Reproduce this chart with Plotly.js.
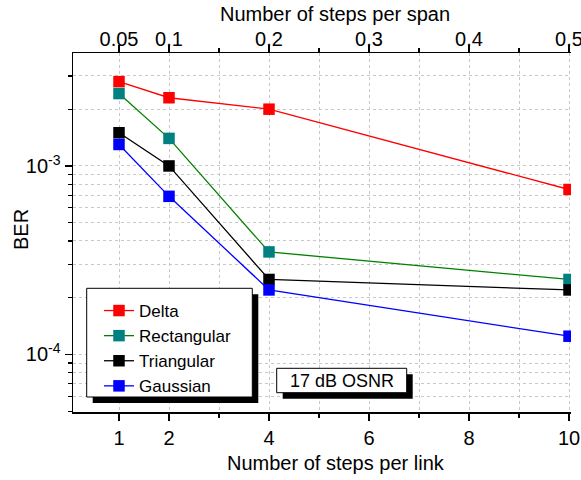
<!DOCTYPE html>
<html><head><meta charset="utf-8">
<script src="https://cdn.plot.ly/plotly-3.0.1.min.js"></script>
<style>body{margin:0;padding:0;background:#fff}#chart{width:581px;height:480px}</style>
</head><body><div id="chart"></div>
<script>
// ---- data ----
const stepsPerLink = [1, 2, 4, 10];
const berDelta = [2.8e-3, 2.3e-3, 2.0e-3, 7.5e-4];
const berRectangular = [2.42e-3, 1.4e-3, 3.5e-4, 2.5e-4];
const berTriangular = [1.5e-3, 1.0e-3, 2.5e-4, 2.2e-4];
const berGaussian = [1.3e-3, 6.9e-4, 2.2e-4, 1.25e-4];
const seriesNames = ['Delta', 'Rectangular', 'Triangular', 'Gaussian'];
const linkTicks = [1, 2, 4, 6, 8, 10];
const spanTicks = [0.05, 0.1, 0.2, 0.3, 0.4, 0.5];
const spanTickLabels = ['0.05', '0.1', '0.2', '0.3', '0.4', '0.5'];
const linksPerSpan = 20;
const yTickVals = [1e-4, 1e-3];
const yTickText = ['10<sup>-4</sup>', '10<sup>-3</sup>'];
const annotationText = '17 dB OSNR';

// ---- styles ----
const lineColors = ['#FF0000', '#008000', '#000000', '#0000FF'];
const markerColors = ['#FF0000', '#008080', '#000000', '#0000FF'];
const FONT = 'Arial, "Liberation Sans", sans-serif';
const W = 581, H = 480, M = {l: 73, r: 10, t: 53, b: 68};
const PW = W - M.l - M.r, PH = H - M.t - M.b;
const px = v => (v - M.l) / PW;
const py = v => (H - M.b - v) / PH;

const seriesValues = [berDelta, berRectangular, berTriangular, berGaussian];
const traces = seriesValues.map((ys, i) => ({
  type: 'scatter', mode: 'lines+markers', name: seriesNames[i],
  x: stepsPerLink, y: ys,
  line: {color: lineColors[i], width: 1.3},
  marker: {symbol: 'square', size: 11.5, color: markerColors[i], line: {width: 0}},
  xaxis: 'x', yaxis: 'y'
}));
// helper (invisible) trace for the top axis
traces.push({type: 'scatter', mode: 'markers', x: spanTicks.map(s => s * linksPerSpan),
  y: spanTicks.map(() => null), xaxis: 'x2', yaxis: 'y', showlegend: false,
  hoverinfo: 'skip', marker: {opacity: 0}});

const grid = {showgrid: true, gridcolor: '#c8c8c8', griddash: 'dot', gridwidth: 1};
const xr = [0.08, 10.04];

function box(x0, y0, x1, y1) {
  return [
    {type: 'rect', xref: 'paper', yref: 'paper', layer: 'above',
     x0: px(x0 + 6), x1: px(x1 + 6), y0: py(y0 + 6), y1: py(y1 + 6),
     fillcolor: '#000', line: {width: 0}},
    {type: 'rect', xref: 'paper', yref: 'paper', layer: 'above',
     x0: px(x0), x1: px(x1), y0: py(y0), y1: py(y1),
     fillcolor: '#fff', line: {color: '#000', width: 1}}
  ];
}

const layout = {
  width: W, height: H, margin: M,
  paper_bgcolor: '#fff', plot_bgcolor: '#fff',
  font: {family: FONT, size: 20, color: '#000'},
  showlegend: true,
  legend: {x: px(99), y: py(293), xanchor: 'left', yanchor: 'top',
    bgcolor: 'rgba(0,0,0,0)', borderwidth: 0,
    font: {family: FONT, size: 17, color: '#000'}},
  xaxis: Object.assign({
    range: xr, tickmode: 'array', tickvals: linkTicks,
    ticks: 'outside', ticklen: 7, tickwidth: 1.3, tickcolor: '#000',
    showline: true, linecolor: '#000', linewidth: 1.5, zeroline: false,
    tickfont: {family: FONT, size: 20}, ticklabeloverflow: 'allow',
    minor: {dtick: 1, tick0: 0, ticks: 'outside', ticklen: 4, tickwidth: 1.3, tickcolor: '#000',
      showgrid: true, gridcolor: '#c8c8c8', griddash: 'dot', gridwidth: 1}
  }, grid),
  xaxis2: {
    overlaying: 'x', side: 'top', anchor: 'y', range: xr,
    tickmode: 'array', tickvals: spanTicks.map(s => s * linksPerSpan), ticktext: spanTickLabels,
    ticks: 'outside', ticklen: 7, tickwidth: 1.3, tickcolor: '#000',
    showline: true, linecolor: '#000', linewidth: 1.5, showgrid: false, zeroline: false,
    tickfont: {family: FONT, size: 20}, ticklabeloverflow: 'allow', ticklabelstandoff: -9,
    minor: {dtick: 1, tick0: 0, ticks: 'outside', ticklen: 4, tickwidth: 1.3, tickcolor: '#000', showgrid: false}
  },
  yaxis: Object.assign({
    type: 'log', range: [-4.305, -2.401],
    tickmode: 'array', tickvals: yTickVals, ticktext: yTickText,
    ticks: 'outside', ticklen: 7, tickwidth: 1.3, tickcolor: '#000',
    showline: true, linecolor: '#000', linewidth: 1.5, zeroline: false,
    tickfont: {family: FONT, size: 20},
    minor: {dtick: 'D1', ticks: 'outside', ticklen: 4, tickwidth: 1.3, tickcolor: '#000',
      showgrid: true, gridcolor: '#c8c8c8', griddash: 'dot', gridwidth: 1}
  }, grid),
  shapes: [].concat(box(86.7, 288.3, 252.3, 397), box(276.7, 368.3, 406.7, 392.7)),
  annotations: [
    {text: 'Number of steps per link', xref: 'paper', yref: 'paper', x: px(336), y: py(463),
      xanchor: 'center', yanchor: 'middle', showarrow: false, font: {family: FONT, size: 20}},
    {text: 'Number of steps per span', xref: 'paper', yref: 'paper', x: px(335), y: py(14),
      xanchor: 'center', yanchor: 'middle', showarrow: false, font: {family: FONT, size: 20}},
    {text: 'BER', xref: 'paper', yref: 'paper', x: px(21), y: py(230), textangle: -90,
      xanchor: 'center', yanchor: 'middle', showarrow: false, font: {family: FONT, size: 20}},
    {text: annotationText, xref: 'paper', yref: 'paper', x: px(341.7), y: py(380.5),
      xanchor: 'center', yanchor: 'middle', showarrow: false, font: {family: FONT, size: 18}}
  ]
};

Plotly.newPlot('chart', traces, layout, {displayModeBar: false, staticPlot: true});
</script>
</body></html>
